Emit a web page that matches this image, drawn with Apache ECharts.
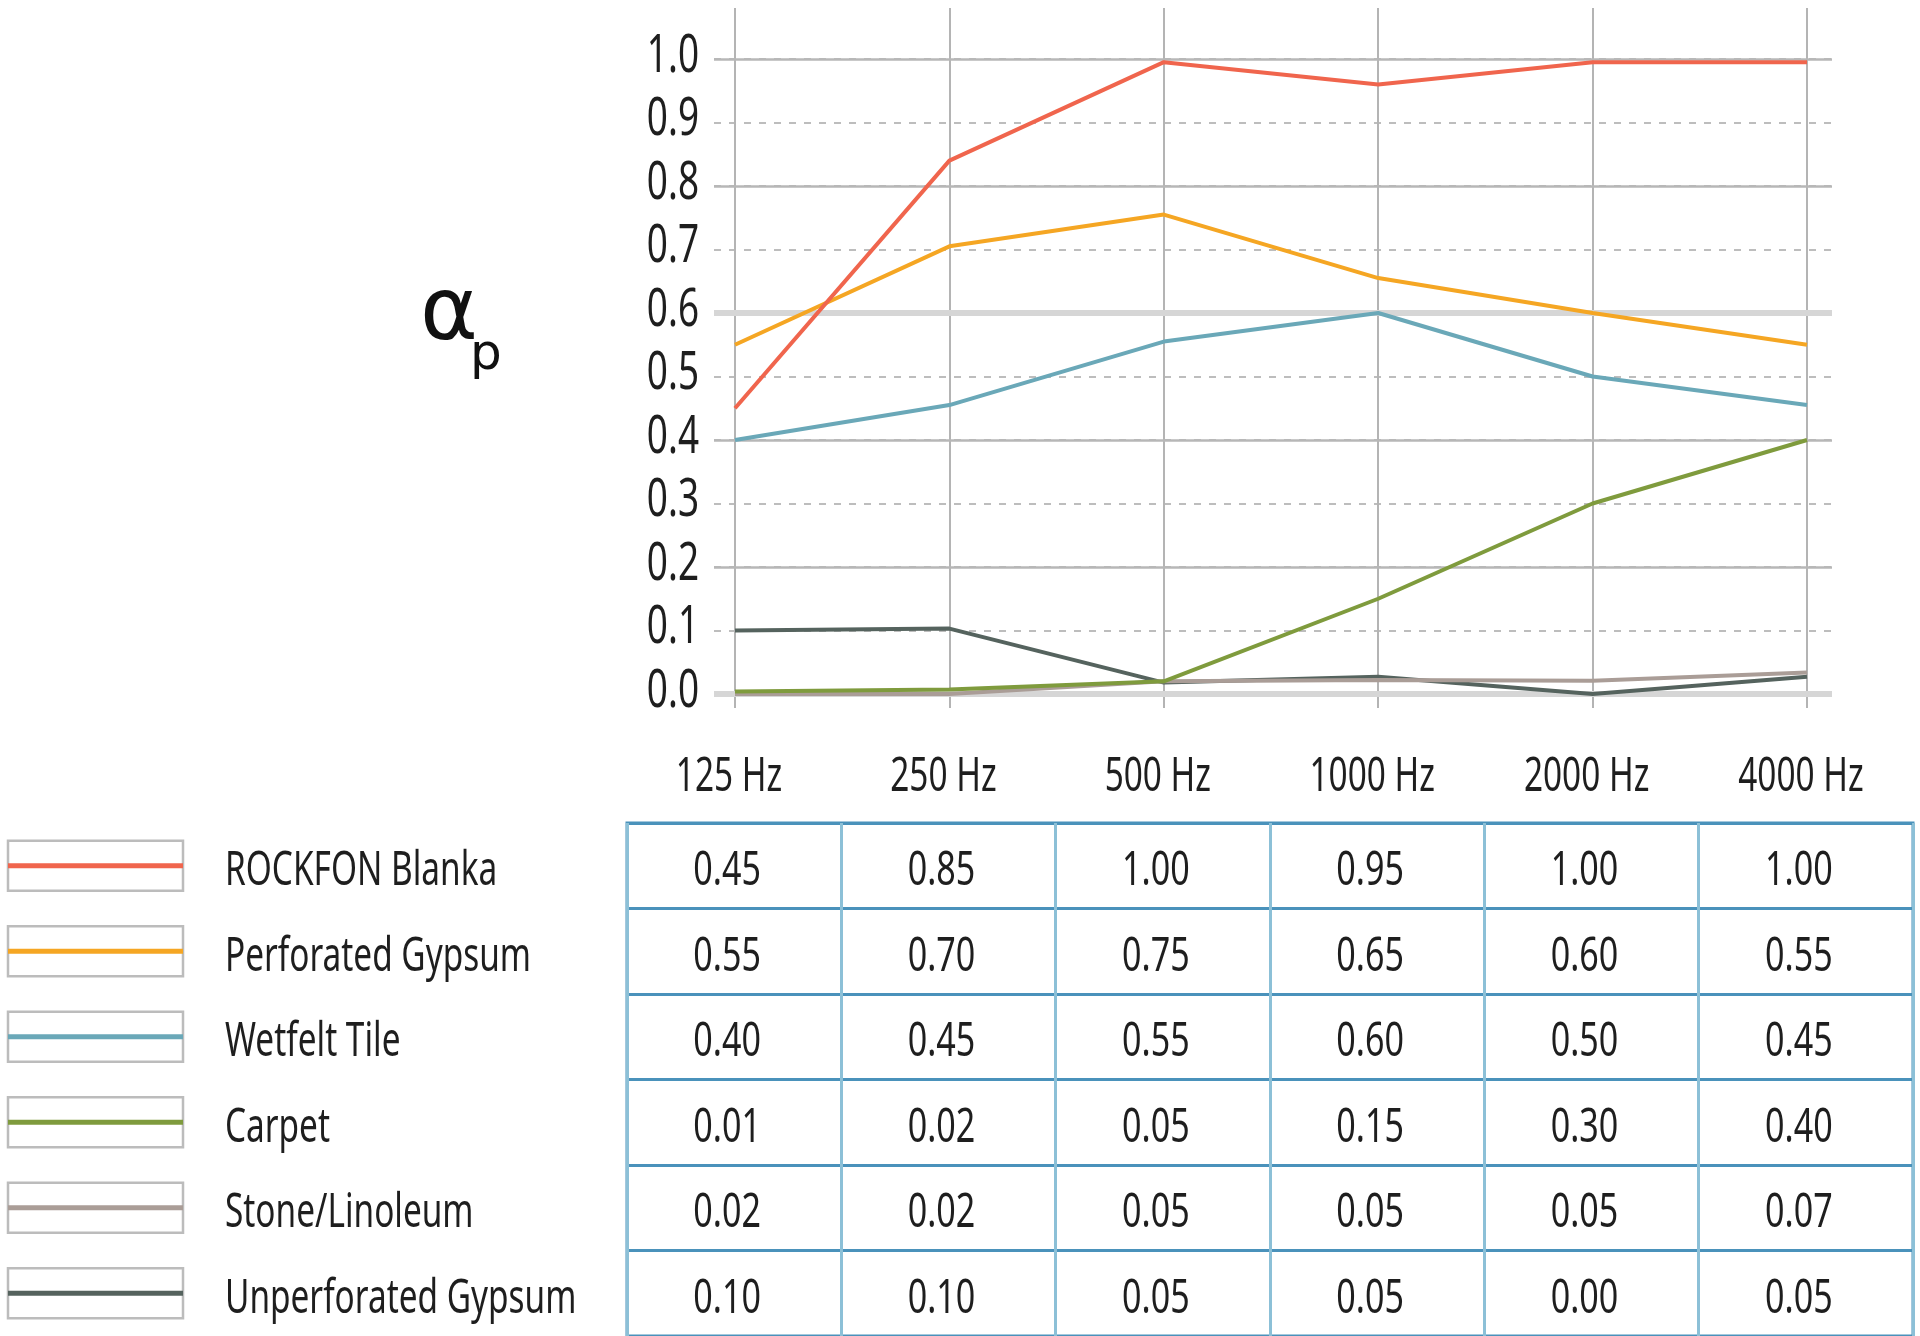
<!DOCTYPE html>
<html>
<head>
<meta charset="utf-8">
<title>Sound absorption</title>
<script src="https://cdn.jsdelivr.net/npm/echarts@6/dist/echarts.min.js"></script>
<style>
  html, body { margin: 0; padding: 0; background: #fff; }
  #chart { width: 1920px; height: 1336px; }
</style>
</head>
<body>
<div id="chart"></div>
<script>
// categories
var freqs = ['125 Hz', '250 Hz', '500 Hz', '1000 Hz', '2000 Hz', '4000 Hz'];
var materials = ['ROCKFON Blanka', 'Perforated Gypsum', 'Wetfelt Tile', 'Carpet', 'Stone/Linoleum', 'Unperforated Gypsum'];
var colors = ['#f0654d', '#f5a623', '#6aa8b8', '#7f9b3d', '#aa9d97', '#55635e'];

// plotted curves
var blanka = [0.45, 0.84, 0.995, 0.96, 0.995, 0.995];
var perforated = [0.55, 0.705, 0.755, 0.655, 0.60, 0.55];
var wetfelt = [0.40, 0.455, 0.555, 0.60, 0.50, 0.455];
var carpet = [0.004, 0.007, 0.02, 0.15, 0.30, 0.40];
var stone = [0.0, 0.0, 0.02, 0.022, 0.021, 0.034];
var unperforated = [0.10, 0.103, 0.018, 0.027, 0.0, 0.027];

// values printed in the table
var tBlanka = [0.45, 0.85, 1.00, 0.95, 1.00, 1.00];
var tPerforated = [0.55, 0.70, 0.75, 0.65, 0.60, 0.55];
var tWetfelt = [0.40, 0.45, 0.55, 0.60, 0.50, 0.45];
var tCarpet = [0.01, 0.02, 0.05, 0.15, 0.30, 0.40];
var tStone = [0.02, 0.02, 0.05, 0.05, 0.05, 0.07];
var tUnperforated = [0.10, 0.10, 0.05, 0.05, 0.00, 0.05];

// y tick labels and gridline values
var yTicks = [0.0, 0.1, 0.2, 0.3, 0.4, 0.5, 0.6, 0.7, 0.8, 0.9, 1.0];
var solidLines = [0.2, 0.4, 0.8, 1.0];
var heavyLines = [0.0, 0.6];

var curves = [blanka, perforated, wetfelt, carpet, stone, unperforated];
var tableRows = [tBlanka, tPerforated, tWetfelt, tCarpet, tStone, tUnperforated];

var FONT = '"Noto Sans", "Liberation Sans", sans-serif';
var TXT = '#1e1e1e';
var SQUEEZE = 0.71; // the original uses a condensed face

function label(x, y, text, size, align) {
	return { type: 'text', x: x, y: y, scaleX: SQUEEZE,
		style: { text: text, align: align, verticalAlign: 'middle',
			fontSize: size, fontFamily: FONT, fill: TXT } };
}

var tableData = [];
tableRows.forEach(function (row, i) {
	row.forEach(function (v, j) {
		tableData.push([j, i, v]);
	});
});
var legendData = materials.map(function (m, i) { return [0, i]; });
var xLabelData = freqs.map(function (f, j) { return [j, 0]; });
var yLabelData = yTicks.map(function (v) { return [0, v]; });

var lineSeries = curves.map(function (c, i) {
	return {
		name: materials[i],
		type: 'line',
		xAxisIndex: 1,
		yAxisIndex: 1,
		data: c,
		symbol: 'none',
		z: 10 - i,
		lineStyle: { color: colors[i], width: 4 },
		itemStyle: { color: colors[i] }
	};
});

var chart = echarts.init(document.getElementById('chart'));
var option = {
	animation: false,
	backgroundColor: '#fff',
	graphic: [
		{ type: 'text', x: 420, y: 316, style: { text: 'α', fontSize: 88, fontFamily: 'DejaVu Sans', fill: '#111', verticalAlign: 'middle', align: 'left' } },
		{ type: 'text', x: 470, y: 356, style: { text: 'p', fontSize: 50, fontFamily: 'DejaVu Sans', fill: '#111', verticalAlign: 'middle', align: 'left' } }
	],
	grid: [
		{ left: 714, right: 88, top: 59, bottom: 642 },   // horizontal gridlines + y labels
		{ left: 735, right: 113, top: 59, bottom: 642 },  // curves
		{ left: 735, right: 113, top: 8, bottom: 628 },   // vertical gridlines
		{ left: 627, right: 7, top: 823, bottom: 0, show: true, borderColor: '#4a92bb', borderWidth: 3 }, // table
		{ left: 8, right: 1737, top: 823, bottom: 0 }     // legend
	],
	xAxis: [
		{ gridIndex: 0, type: 'value', min: 0, max: 1, show: false },
		{ gridIndex: 1, type: 'category', data: freqs, boundaryGap: false, show: false },
		{ gridIndex: 2, type: 'category', data: freqs, boundaryGap: false,
			axisLine: { show: false }, axisTick: { show: false }, axisLabel: { show: false },
			splitLine: { show: true, interval: 0, lineStyle: { color: '#b4b4b4', width: 2 } } },
		{ gridIndex: 3, type: 'category', data: freqs, boundaryGap: true,
			axisLine: { show: false }, axisTick: { show: false }, axisLabel: { show: false },
			splitLine: { show: true, interval: 0, lineStyle: { color: '#8cc0d7', width: 3 } } },
		{ gridIndex: 4, type: 'value', min: 0, max: 1, show: false }
	],
	yAxis: [
		{ gridIndex: 0, type: 'value', min: 0, max: 1, interval: 0.1,
			axisLine: { show: false }, axisTick: { show: false }, axisLabel: { show: false },
			splitLine: { show: true, lineStyle: { color: '#bdbdbd', width: 2, type: [7, 8] } } },
		{ gridIndex: 1, type: 'value', min: 0, max: 1, show: false },
		{ gridIndex: 2, type: 'value', min: 0, max: 1, show: false },
		{ gridIndex: 3, type: 'category', data: materials, inverse: true,
			axisLine: { show: false }, axisTick: { show: false }, axisLabel: { show: false },
			splitLine: { show: true, interval: 0, lineStyle: { color: '#4a92bb', width: 3 } } },
		{ gridIndex: 4, type: 'category', data: materials, inverse: true, show: false }
	],
	series: [
		{
			type: 'line', xAxisIndex: 0, yAxisIndex: 0, data: [], silent: true, z: 1,
			markLine: { symbol: 'none', silent: true, label: { show: false },
				lineStyle: { color: '#b7b7b7', width: 2.5, type: 'solid' },
				data: solidLines.map(function (v) { return { yAxis: v }; }) }
		},
		{
			type: 'line', xAxisIndex: 0, yAxisIndex: 0, data: [], silent: true, z: 1,
			markLine: { symbol: 'none', silent: true, label: { show: false },
				lineStyle: { color: '#d6d6d6', width: 6, type: 'solid' },
				data: heavyLines.map(function (v) { return { yAxis: v }; }) }
		},
		{
			// y tick labels
			type: 'custom', xAxisIndex: 0, yAxisIndex: 0, data: yLabelData, silent: true,
			renderItem: function (params, api) {
				var p = api.coord([0, api.value(1)]);
				return label(p[0] - 15, p[1] - 2, api.value(1).toFixed(1), 52, 'right');
			}
		},
		{
			// frequency labels
			type: 'custom', xAxisIndex: 1, yAxisIndex: 1, data: xLabelData, silent: true,
			renderItem: function (params, api) {
				var j = api.value(0);
				var p = api.coord([j, 0]);
				return label(p[0] - 6, p[1] + 84, freqs[j], 47, 'center');
			}
		},
		{
			// table cells
			type: 'custom', xAxisIndex: 3, yAxisIndex: 3, data: tableData, silent: true,
			renderItem: function (params, api) {
				var p = api.coord([api.value(0), api.value(1)]);
				return label(p[0] - 7, p[1] + 6, api.value(2).toFixed(2), 48, 'center');
			}
		},
		{
			// legend swatches
			type: 'custom', xAxisIndex: 4, yAxisIndex: 4, data: legendData, silent: true,
			renderItem: function (params, api) {
				var i = api.value(1);
				var a = api.coord([0, i]);
				var b = api.coord([1, i]);
				return { type: 'group', children: [
					{ type: 'rect', shape: { x: a[0], y: a[1] - 25, width: b[0] - a[0], height: 50 },
						style: { fill: '#fff', stroke: '#bcbcbc', lineWidth: 2.5 } },
					{ type: 'line', shape: { x1: a[0], y1: a[1], x2: b[0], y2: b[1] },
						style: { stroke: colors[i], lineWidth: 5 } },
					label(b[0] + 42, a[1] + 6, materials[i], 47, 'left')
				] };
			}
		}
	].concat(lineSeries)
};
chart.setOption(option);
</script>
</body>
</html>
